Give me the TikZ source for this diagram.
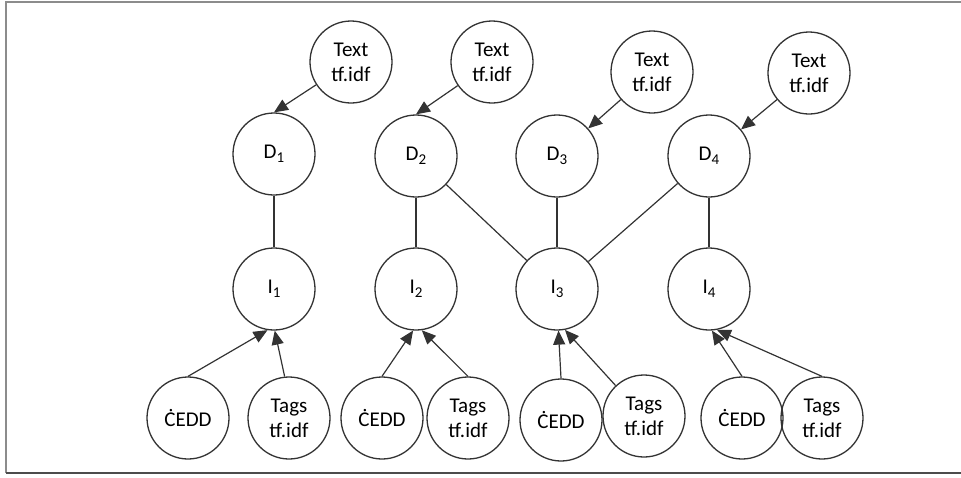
\documentclass[tikz,border=0pt]{standalone}
\usepackage{fontspec}
\setmainfont{Carlito}
\usetikzlibrary{arrows.meta}
\newcommand{\sub}[1]{\raisebox{-4.5pt}{\fontsize{15}{15}\selectfont #1}}
\tikzset{
  vertex/.style={circle, draw=black!80, line width=1.3pt, minimum size=82pt,
    inner sep=0pt, align=center, font=\fontsize{21}{25}\selectfont},
  arr/.style={draw=black!80, line width=1.2pt, -{Triangle[length=14pt,width=12pt]}},
  link/.style={draw=black!80, line width=1.2pt},
}
\begin{document}
\begin{tikzpicture}[x=1pt, y=-1pt]
\useasboundingbox (0,0) rectangle (961,477);
% frame
\draw[line width=2.5pt, black!45] (961,2) -- (6,2) -- (6,473);
\draw[line width=2.5pt, black!70] (6,473) -- (961,473);

% text nodes
\node[vertex] (t1) at (351,62) {Text\\tf.idf};
\node[vertex] (t2) at (492,62) {Text\\tf.idf};
\node[vertex] (t3) at (652,72) {Text\\tf.idf};
\node[vertex] (t4) at (809,73) {Text\\tf.idf};
% documents
\node[vertex] (d1) at (274,154) {D\sub{1}};
\node[vertex] (d2) at (416,156) {D\sub{2}};
\node[vertex] (d3) at (557,156) {D\sub{3}};
\node[vertex] (d4) at (709,156) {D\sub{4}};
% images
\node[vertex] (i1) at (274,289) {I\sub{1}};
\node[vertex] (i2) at (416,289) {I\sub{2}};
\node[vertex] (i3) at (557,289) {I\sub{3}};
\node[vertex] (i4) at (709,289) {I\sub{4}};
% descriptors
\node[vertex] (c1) at (188,418) {ĊEDD};
\node[vertex] (g1) at (289,418) {Tags\\tf.idf};
\node[vertex] (c2) at (382,418) {ĊEDD};
\node[vertex] (g2) at (468,418) {Tags\\tf.idf};
\node[vertex] (c3) at (561,420) {ĊEDD};
\node[vertex] (g3) at (644,416) {Tags\\tf.idf};
\node[vertex] (c4) at (742,418) {ĊEDD};
\node[vertex] (g4) at (822,418) {Tags\\tf.idf};

% text -> document
\draw[arr] (t1) -- (d1.north);
\draw[arr] (t2) -- (d2.north);
\draw[arr] (t3) -- (d3);
\draw[arr] (t4) -- (d4);

% document -- image
\draw[link] (d1) -- (i1);
\draw[link] (d2) -- (i2);
\draw[link] (d3) -- (i3);
\draw[link] (d4) -- (i4);
\draw[link] (d2) -- (i3);
\draw[link] (d4) -- (i3);

% descriptors -> image
\draw[arr] (c1.north) -- (i1.-99);
\draw[arr] (g1.96) -- (i1.-89);
\draw[arr] (c2.north) -- (i2.-94);
\draw[arr] (g2.north) -- (i2.-82);
\draw[arr] (c3.north) -- (i3.-88);
\draw[arr] (g3.133) -- (i3.-79);
\draw[arr] (c4.north) -- (i4.-86);
\draw[arr] (g4.north) -- (i4.-79);
\end{tikzpicture}
\end{document}
